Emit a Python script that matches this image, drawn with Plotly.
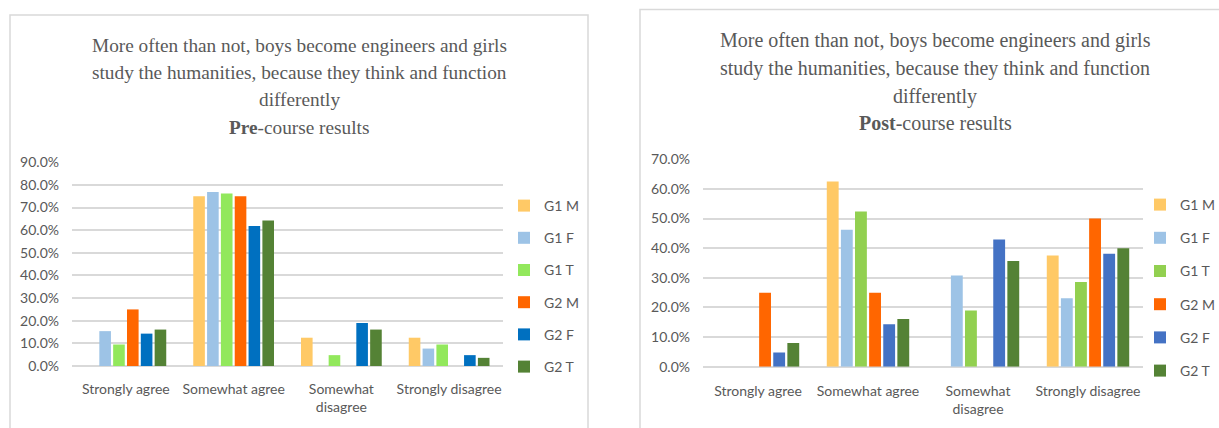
import plotly.graph_objects as go

# Survey answer categories (tick labels wrap like the original)
categories = ["Strongly agree", "Somewhat agree", "Somewhat disagree", "Strongly disagree"]
tick_labels = ["Strongly agree", "Somewhat agree", "Somewhat<br>disagree", "Strongly disagree"]
series_names = ["G1 M", "G1 F", "G1 T", "G2 M", "G2 F", "G2 T"]

# Pre-course shares per series (fractions)
pre_g1m = [0.0, 0.75, 0.125, 0.125]
pre_g1f = [0.154, 0.769, 0.0, 0.077]
pre_g1t = [0.095, 0.762, 0.048, 0.095]
pre_g2m = [0.25, 0.75, 0.0, 0.0]
pre_g2f = [0.143, 0.619, 0.190, 0.048]
pre_g2t = [0.161, 0.643, 0.161, 0.036]

# Post-course shares per series (fractions)
post_g1m = [0.0, 0.625, 0.0, 0.375]
post_g1f = [0.0, 0.462, 0.308, 0.231]
post_g1t = [0.0, 0.524, 0.190, 0.286]
post_g2m = [0.25, 0.25, 0.0, 0.50]
post_g2f = [0.048, 0.143, 0.429, 0.381]
post_g2t = [0.08, 0.161, 0.357, 0.40]

pre_values = [pre_g1m, pre_g1f, pre_g1t, pre_g2m, pre_g2f, pre_g2t]
post_values = [post_g1m, post_g1f, post_g1t, post_g2m, post_g2f, post_g2t]

pre_colors = ["#FFC966", "#9DC3E6", "#92E85C", "#FF6600", "#0070C0", "#548235"]
post_colors = ["#FFC966", "#9DC3E6", "#92D050", "#FF6600", "#4472C4", "#548235"]

title_lines = [
    "More often than not, boys become engineers and girls",
    "study the humanities, because they think and function",
    "differently",
]
pre_subtitle = "<b>Pre</b>-course results"
post_subtitle = "<b>Post</b>-course results"

W, H = 1219, 428
GREY = "#595959"
GRID = "#D9D9D9"
SANS = "Lato"
SERIF = "Liberation Serif"


def px_x(p):
    return p / W


def px_y(p):
    return 1 - p / H


fig = go.Figure()

for name, vals, col in zip(series_names, pre_values, pre_colors):
    fig.add_trace(go.Bar(
        x=categories, y=vals, name=name, marker_color=col,
        marker_line_width=0, xaxis="x", yaxis="y",
        legend="legend", legendgroup="pre" + name,
    ))

for name, vals, col in zip(series_names, post_values, post_colors):
    fig.add_trace(go.Bar(
        x=categories, y=vals, name=name, marker_color=col,
        marker_line_width=0, xaxis="x2", yaxis="y2",
        legend="legend2", legendgroup="post" + name,
    ))

axis_font = dict(family=SANS, size=14, color=GREY)

xaxis_common = dict(
    type="category", tickvals=categories, ticktext=tick_labels,
    tickfont=axis_font, showgrid=False, showline=False, zeroline=False,
    ticks="", fixedrange=True, automargin=False,
)
yaxis_common = dict(
    tickformat=".1%", dtick=0.1, tickfont=axis_font,
    showgrid=True, gridcolor=GRID, gridwidth=1.5,
    zeroline=True, zerolinecolor=GRID, zerolinewidth=1.5,
    showline=False, ticks="", ticklabelstandoff=12, fixedrange=True,
    automargin=False,
)

legend_common = dict(
    font=dict(family=SANS, size=14, color=GREY),
    orientation="v", xanchor="left", yanchor="top",
    bgcolor="rgba(0,0,0,0)", borderwidth=0, traceorder="grouped",
)

fig.update_layout(
    width=W, height=H,
    margin=dict(l=0, r=0, t=0, b=0, autoexpand=False),
    paper_bgcolor="white", plot_bgcolor="white",
    barmode="group", bargap=0.23, bargroupgap=0.16,
    showlegend=True,
    xaxis=dict(domain=[px_x(72), px_x(503)], anchor="y",
               ticklabelstandoff=13, **xaxis_common),
    yaxis=dict(domain=[px_y(366), px_y(162.3)], range=[0, 0.9], anchor="x", **yaxis_common),
    xaxis2=dict(domain=[px_x(703), px_x(1143)], anchor="y2",
                ticklabelstandoff=14, **xaxis_common),
    yaxis2=dict(domain=[px_y(366.7), px_y(159.3)], range=[0, 0.7], anchor="x2", **yaxis_common),
    legend=dict(x=px_x(504), y=px_y(190), tracegroupgap=11, **legend_common),
    legend2=dict(x=px_x(1140), y=px_y(189), tracegroupgap=12, **legend_common),
)

# Panel frames
fig.add_shape(type="rect", xref="paper", yref="paper",
              x0=px_x(10), x1=px_x(588), y0=px_y(440), y1=px_y(15),
              line=dict(color=GRID, width=1.5), fillcolor="rgba(0,0,0,0)", layer="below")
fig.add_shape(type="rect", xref="paper", yref="paper",
              x0=px_x(640), x1=px_x(1232), y0=px_y(440), y1=px_y(9.5),
              line=dict(color=GRID, width=1.5), fillcolor="rgba(0,0,0,0)", layer="below")

# Chart titles, one annotation per line
for lines, cx, ys, size in [
    (title_lines + [pre_subtitle], 299, [45, 72, 99, 127], 19.3),
    (title_lines + [post_subtitle], 935, [40, 68, 96, 123], 20),
]:
    for text, yy in zip(lines, ys):
        fig.add_annotation(
            text=text, xref="paper", yref="paper", x=px_x(cx), y=px_y(yy),
            xanchor="center", yanchor="middle", showarrow=False,
            font=dict(family=SERIF, size=size, color=GREY),
        )

fig.write_html("out.html")
